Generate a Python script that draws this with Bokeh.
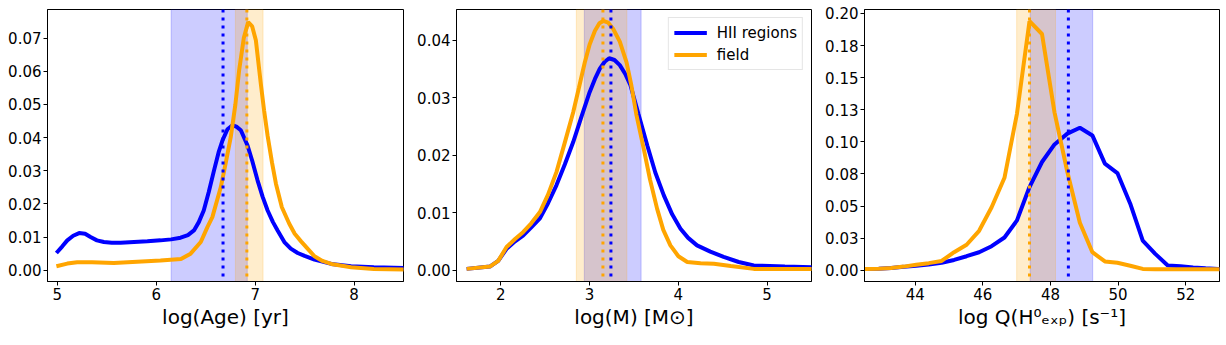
from bokeh.plotting import figure
from bokeh.layouts import row
from bokeh.models import BoxAnnotation, Span, FixedTicker, Range1d
from bokeh.embed import file_html
from bokeh.resources import INLINE

BLUE = "#0000ff"
ORANGE = "#ffa500"

# ---------------- data: panel 1, log(Age) ----------------
age_x_hii = [4.99, 5.05, 5.10, 5.16, 5.22, 5.28, 5.335, 5.40, 5.47, 5.55, 5.64, 5.91, 6.043,
             6.15, 6.246, 6.32, 6.381, 6.43, 6.48, 6.53, 6.584, 6.63, 6.669, 6.72, 6.77,
             6.81, 6.855, 6.923, 6.97, 7.024, 7.075, 7.126, 7.18, 7.227, 7.295, 7.36, 7.43,
             7.50, 7.60, 7.77, 7.97, 8.2, 8.51]
age_y_hii = [0.0052, 0.0072, 0.0090, 0.0104, 0.0112, 0.0110, 0.0100, 0.0090, 0.0085, 0.0083,
             0.0083, 0.0087, 0.0090, 0.0093, 0.0098, 0.0106, 0.0120, 0.0145, 0.0180, 0.0235,
             0.0301, 0.0355, 0.0391, 0.0425, 0.0437, 0.0433, 0.0422, 0.0376, 0.0330, 0.0271,
             0.0222, 0.0180, 0.0145, 0.0120, 0.0085, 0.0065, 0.0052, 0.0043, 0.0032, 0.0019,
             0.0012, 0.0009, 0.0007]
age_x_field = [4.99, 5.10, 5.20, 5.35, 5.57, 6.043, 6.25, 6.347, 6.45, 6.517, 6.567, 6.652,
               6.70, 6.753, 6.80, 6.838, 6.885, 6.929, 6.97, 7.007, 7.058, 7.09, 7.126, 7.17,
               7.21, 7.27, 7.345, 7.40, 7.464, 7.53, 7.60, 7.68, 7.77, 7.97, 8.2, 8.51]
age_y_field = [0.0012, 0.0020, 0.0024, 0.0024, 0.0022, 0.0029, 0.0034, 0.0050, 0.0085, 0.0130,
               0.0160, 0.0250, 0.0320, 0.0401, 0.0500, 0.0603, 0.0700, 0.0748, 0.0735, 0.0693,
               0.0560, 0.0482, 0.0405, 0.0325, 0.0261, 0.0190, 0.0140, 0.0110, 0.0087, 0.0065,
               0.0042, 0.0028, 0.0019, 0.0009, 0.0004, 0.0002]
age_span_hii = (6.15, 6.92)
age_span_field = (6.80, 7.08)
age_med_hii = 6.675
age_med_field = 6.916
age_xticks = [5, 6, 7, 8]
age_yticks = [0.0, 0.01, 0.02, 0.03, 0.04, 0.05, 0.06, 0.07]
age_ylabels = ["0.00", "0.01", "0.02", "0.03", "0.04", "0.05", "0.06", "0.07"]

# ---------------- data: panel 2, log(M) ----------------
m_x_hii = [1.614, 1.876, 1.97, 2.064, 2.16, 2.25, 2.34, 2.44, 2.53, 2.627, 2.72, 2.815, 2.91,
           3.0, 3.06, 3.115, 3.17, 3.22, 3.28, 3.34, 3.40, 3.46, 3.55, 3.65, 3.74, 3.836,
           3.93, 4.024, 4.11, 4.21, 4.36, 4.51, 4.68, 4.85, 5.2, 5.507]
m_y_hii = [0.0002, 0.0006, 0.0016, 0.0037, 0.0050, 0.0060, 0.0074, 0.0090, 0.0116, 0.0148,
           0.0184, 0.0223, 0.0268, 0.0310, 0.0333, 0.0351, 0.0363, 0.0369, 0.0366, 0.0357,
           0.0342, 0.0322, 0.0272, 0.0217, 0.0170, 0.0130, 0.0097, 0.0072, 0.0056, 0.0043,
           0.0032, 0.0023, 0.0014, 0.0008, 0.0006, 0.0005]
m_x_field = [1.614, 1.876, 1.97, 2.064, 2.16, 2.25, 2.34, 2.44, 2.53, 2.627, 2.72, 2.815,
             2.88, 2.946, 3.0, 3.06, 3.11, 3.153, 3.21, 3.266, 3.34, 3.416, 3.47, 3.528,
             3.61, 3.68, 3.76, 3.83, 3.91, 4.0, 4.10, 4.25, 4.40, 4.59, 4.85, 5.507]
m_y_field = [0.0002, 0.0006, 0.0016, 0.0040, 0.0054, 0.0066, 0.0081, 0.0101, 0.0131, 0.0171,
             0.0222, 0.0275, 0.0318, 0.0362, 0.0393, 0.0417, 0.0430, 0.0434, 0.0431, 0.0420,
             0.0398, 0.0362, 0.0322, 0.0270, 0.0211, 0.0158, 0.0107, 0.0070, 0.0043, 0.0024,
             0.0014, 0.0012, 0.0011, 0.0007, 0.0002, 0.0002]
m_span_hii = (2.94, 3.58)
m_span_field = (2.85, 3.42)
m_med_hii = 3.24
m_med_field = 3.15
m_xticks = [2, 3, 4, 5]
m_yticks = [0.0, 0.01, 0.02, 0.03, 0.04]
m_ylabels = ["0.00", "0.01", "0.02", "0.03", "0.04"]

# ---------------- data: panel 3, log Q(H0) ----------------
q_x = [42.17, 42.54, 42.92, 43.29, 43.66, 44.03, 44.40, 44.78, 45.15, 45.52, 45.89, 46.26,
       46.64, 47.01, 47.38, 47.75, 48.12, 48.50, 48.87, 49.24, 49.61, 49.98, 50.36, 50.73,
       51.10, 51.47, 51.85, 52.22, 52.59, 52.96, 53.33]
q_y_hii = [0.001, 0.001, 0.0012, 0.0018, 0.0026, 0.0035, 0.0045, 0.0058, 0.008, 0.0109,
           0.014, 0.0187, 0.0255, 0.0388, 0.0648, 0.0843, 0.098, 0.1064, 0.111, 0.105,
           0.083, 0.0757, 0.0518, 0.0231, 0.0127, 0.0036, 0.003, 0.0022, 0.0015, 0.001, 0.001]
q_y_field = [0.001, 0.001, 0.0012, 0.0018, 0.0028, 0.0042, 0.0055, 0.0072, 0.014, 0.0198,
             0.0307, 0.049, 0.072, 0.122, 0.194, 0.184, 0.123, 0.0765, 0.037, 0.014,
             0.0068, 0.0058, 0.0035, 0.001, 0.0008, 0.0008, 0.0008, 0.0008, 0.0008, 0.0008,
             0.0008]
q_span_hii = (47.4, 49.25)
q_span_field = (47.0, 48.15)
q_med_hii = 48.53
q_med_field = 47.38
q_xticks = [44, 46, 48, 50, 52]
q_yticks = [0.0, 0.025, 0.05, 0.075, 0.1, 0.125, 0.15, 0.175, 0.2]
q_ylabels = ["0.00", "0.03", "0.05", "0.08", "0.10", "0.13", "0.15", "0.18", "0.20"]

FONT = "DejaVu Sans"


def make_panel(width, left, right, xr, yr, xticks, yticks, ylabels, xlabel,
               xh, yh, xf, yf, span_h, span_f, med_h, med_f, legend=False):
    p = figure(width=width, height=343, x_range=Range1d(*xr), y_range=Range1d(*yr),
               output_backend="svg", toolbar_location=None,
               min_border_left=left, min_border_right=right,
               min_border_top=9, min_border_bottom=62)
    p.grid.visible = False
    p.outline_line_color = "black"
    p.outline_line_width = 1
    p.background_fill_color = "white"
    p.border_fill_color = "white"

    for ax in (p.xaxis[0], p.yaxis[0]):
        ax.major_label_text_font = FONT
        ax.major_label_text_font_size = "15px"
        ax.major_label_text_color = "black"
        ax.major_tick_out = 4
        ax.major_tick_in = 0
        ax.minor_tick_out = 0
        ax.minor_tick_in = 0
        ax.major_label_standoff = 2
        ax.axis_line_color = "black"
        ax.major_tick_line_color = "black"
    p.xaxis.ticker = FixedTicker(ticks=xticks)
    p.yaxis.ticker = FixedTicker(ticks=yticks)
    p.yaxis.major_label_overrides = {t: s for t, s in zip(yticks, ylabels)}
    p.xaxis.axis_label = xlabel
    p.xaxis.axis_label_text_font = FONT
    p.xaxis.axis_label_text_font_size = "20px"
    p.xaxis.axis_label_text_font_style = "normal"
    p.xaxis.axis_label_text_color = "black"
    p.xaxis.axis_label_standoff = 2

    p.add_layout(BoxAnnotation(left=span_h[0], right=span_h[1], fill_color=BLUE,
                               fill_alpha=0.2, line_color=BLUE, line_alpha=0.2,
                               line_width=1, level="underlay"))
    p.add_layout(BoxAnnotation(left=span_f[0], right=span_f[1], fill_color=ORANGE,
                               fill_alpha=0.2, line_color=ORANGE, line_alpha=0.2,
                               line_width=1, level="underlay"))

    if legend:
        p.line(xh, yh, line_color=BLUE, line_width=4, legend_label="HII regions")
        p.line(xf, yf, line_color=ORANGE, line_width=4, legend_label="field")
    else:
        p.line(xh, yh, line_color=BLUE, line_width=4)
        p.line(xf, yf, line_color=ORANGE, line_width=4)

    p.add_layout(Span(location=med_h, dimension="height", line_color=BLUE,
                      line_width=3, line_dash="3 5"))
    p.add_layout(Span(location=med_f, dimension="height", line_color=ORANGE,
                      line_width=3, line_dash="3 5"))

    if legend:
        lg = p.legend[0]
        lg.location = "top_right"
        lg.margin = 8
        lg.padding = 5
        lg.spacing = 3
        lg.glyph_width = 33
        lg.glyph_height = 19
        lg.label_height = 19
        lg.label_standoff = 10
        lg.label_text_font = FONT
        lg.label_text_font_size = "15px"
        lg.label_text_color = "black"
        lg.border_line_color = "#cccccc"
        lg.border_line_width = 1
        lg.background_fill_alpha = 0.8
    return p


p1 = make_panel(410, 47, 7, (4.9, 8.5), (-0.0034, 0.0786), age_xticks, age_yticks,
                age_ylabels, "log(Age) [yr]", age_x_hii, age_y_hii, age_x_field,
                age_y_field, age_span_hii, age_span_field, age_med_hii, age_med_field)
p2 = make_panel(408, 46, 7, (1.5, 5.5), (-0.002, 0.0454), m_xticks, m_yticks,
                m_ylabels, "log(M) [M⊙]", m_x_hii, m_y_hii, m_x_field, m_y_field,
                m_span_hii, m_span_field, m_med_hii, m_med_field, legend=True)
p3 = make_panel(408, 46, 7, (42.5, 53.0), (-0.0088, 0.2031), q_xticks, q_yticks,
                q_ylabels, "log Q(H⁰ₑₓₚ) [s⁻¹]", q_x, q_y_hii, q_x, q_y_field,
                q_span_hii, q_span_field, q_med_hii, q_med_field)

layout = row(p1, p2, p3)
open("out.html", "w").write(file_html(layout, INLINE))
